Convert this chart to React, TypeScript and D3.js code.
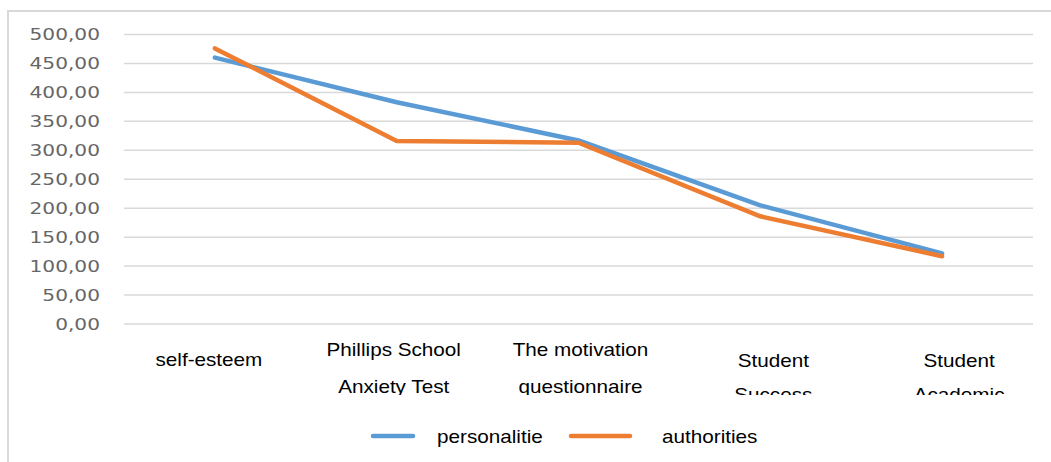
import React, { useEffect, useRef } from 'react';
import * as d3 from 'd3';

const categories = [
  ['self-esteem'],
  ['Phillips School', 'Anxiety Test'],
  ['The motivation', 'questionnaire'],
  ['Student', 'Success'],
  ['Student', 'Academic'],
];
const personalitie = [460, 383, 317, 205, 122];
const authorities = [476, 316, 313, 186, 117];
const yTicks = [0, 50, 100, 150, 200, 250, 300, 350, 400, 450, 500];

const seriesList = [
  { name: 'personalitie', values: personalitie, color: '#5B9BD5' },
  { name: 'authorities', values: authorities, color: '#ED7D31' },
];

export default function App() {
  const ref = useRef<SVGSVGElement>(null);

  useEffect(() => {
    const svg = d3.select(ref.current);
    svg.selectAll('*').remove();

    const left = 124;
    const right = 1033;
    const x = d3
      .scalePoint<number>()
      .domain(d3.range(categories.length))
      .range([left, right])
      .padding(0.5);
    const y = d3.scaleLinear().domain([0, 500]).range([324, 34.5]);

    // chart area border
    svg
      .append('rect')
      .attr('x', 8)
      .attr('y', 11)
      .attr('width', 1080)
      .attr('height', 480)
      .attr('fill', 'white')
      .attr('stroke', '#d9d9d9')
      .attr('stroke-width', 2);

    // grid + y labels
    const grid = svg.append('g');
    grid
      .selectAll('line')
      .data(yTicks)
      .enter()
      .append('line')
      .attr('x1', left)
      .attr('x2', right)
      .attr('y1', d => y(d))
      .attr('y2', d => y(d))
      .attr('stroke', '#d9d9d9')
      .attr('stroke-width', 1.5);

    const fmt = (v: number) => d3.format('.2f')(v).replace('.', ',');
    grid
      .selectAll('text')
      .data(yTicks)
      .enter()
      .append('text')
      .attr('transform', d => `translate(100, ${y(d)}) scale(1.3, 1)`)
      .attr('text-anchor', 'end')
      .attr('dominant-baseline', 'central')
      .attr('font-family', 'DejaVu Sans, Verdana, sans-serif')
      .attr('font-size', 15.5)
      .attr('fill', '#666')
      .text(d => fmt(d));

    // category labels, clipped at the bottom like the original
    svg
      .append('clipPath')
      .attr('id', 'labelClip')
      .append('rect')
      .attr('x', 0)
      .attr('y', 330)
      .attr('width', 1051)
      .attr('height', 65);

    const labelDx = [-6, -3, 2, 13, 17];
    const lab = svg.append('g').attr('clip-path', 'url(#labelClip)');
    categories.forEach((lines, i) => {
      const top = lines.length === 1 ? 360 : i < 3 ? 350 : 361;
      const step = i < 3 ? 37 : 34;
      lines.forEach((ln, j) => {
        lab
          .append('text')
          .attr(
            'transform',
            `translate(${(x(i) as number) + labelDx[i]}, ${top + j * step}) scale(1.15, 1)`
          )
          .attr('text-anchor', 'middle')
          .attr('dominant-baseline', 'central')
          .attr('font-family', 'Liberation Sans, Arial, sans-serif')
          .attr('font-size', 18)
          .attr('fill', '#000')
          .text(ln);
      });
    });

    // lines
    const line = d3
      .line<number>()
      .x((d, i) => x(i) as number)
      .y(d => y(d));
    seriesList.forEach(s => {
      svg
        .append('path')
        .datum(s.values)
        .attr('d', line)
        .attr('fill', 'none')
        .attr('stroke', s.color)
        .attr('stroke-width', 4.5)
        .attr('stroke-linejoin', 'round')
        .attr('stroke-linecap', 'round');
    });

    // legend
    const legendPos = [
      { x1: 373, x2: 413, tx: 437 },
      { x1: 571, x2: 630, tx: 662 },
    ];
    seriesList.forEach((s, i) => {
      const p = legendPos[i];
      svg
        .append('line')
        .attr('x1', p.x1)
        .attr('x2', p.x2)
        .attr('y1', 436)
        .attr('y2', 436)
        .attr('stroke', s.color)
        .attr('stroke-width', 4.5)
        .attr('stroke-linecap', 'round');
      svg
        .append('text')
        .attr('transform', `translate(${p.tx}, 437) scale(1.15, 1)`)
        .attr('dominant-baseline', 'central')
        .attr('font-family', 'Liberation Sans, Arial, sans-serif')
        .attr('font-size', 18)
        .attr('fill', '#000')
        .text(s.name);
    });
  }, []);

  return (
    <svg
      ref={ref}
      width={1051}
      height={462}
      style={{ position: 'absolute', left: 0, top: 0, background: 'white' }}
    />
  );
}
